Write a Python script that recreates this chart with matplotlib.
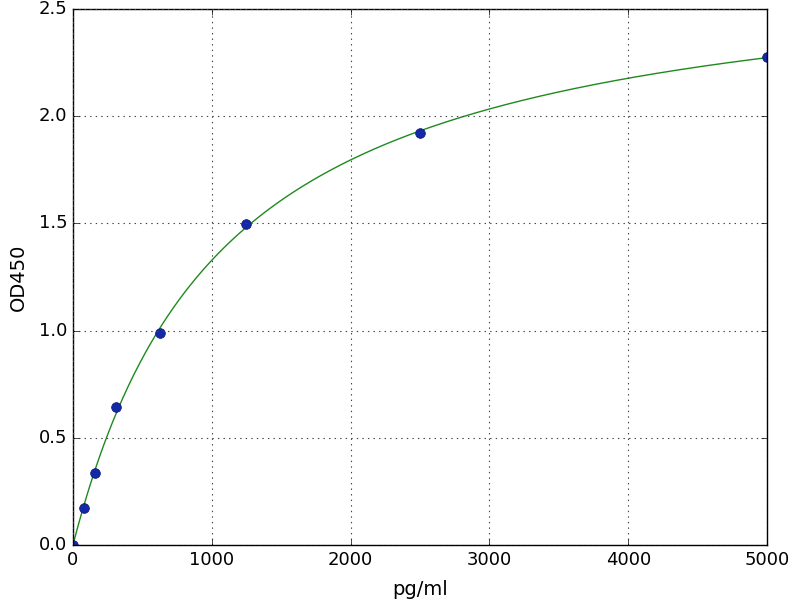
import numpy as np
import matplotlib
matplotlib.use("Agg")
import matplotlib.pyplot as plt

# Standard curve data
conc = np.array([0, 78.125, 156.25, 312.5, 625, 1250, 2500, 5000])
od450 = np.array([0.0, 0.173, 0.335, 0.643, 0.987, 1.497, 1.922, 2.276])


def fit_4pl(x, y):
    """Four-parameter logistic fit: grid over b, c; linear least squares for a, d."""
    best = None
    for b in np.linspace(0.5, 2.0, 151):
        for c in np.geomspace(200, 20000, 300):
            s = 1.0 / (1.0 + (x / c) ** b)
            A = np.column_stack([s, 1 - s])
            coef, *_ = np.linalg.lstsq(A, y, rcond=None)
            err = np.sum((A @ coef - y) ** 2)
            if best is None or err < best[0]:
                best = (err, coef[0], b, c, coef[1])
    _, a, b, c, d = best
    return a, b, c, d


def logistic4(x, a, b, c, d):
    return d + (a - d) / (1.0 + (x / c) ** b)


params = fit_4pl(conc, od450)
xs = np.linspace(0, 5000, 500)

plt.style.use("classic")
fig = plt.figure(figsize=(8, 6), dpi=100)
ax = fig.add_axes([0.091, 0.0917, 0.868, 0.8933])
ax.plot(xs, logistic4(xs, *params), color="#1e8a1e", lw=1)
ax.plot(conc, od450, "o", color="#1428aa", markeredgecolor="#0a1a6e", markersize=7)
ax.set_xlim(0, 5000)
ax.set_ylim(0, 2.5)
ax.set_xlabel("pg/ml", fontsize=14, labelpad=8)
ax.set_ylabel("OD450", fontsize=14, labelpad=8)
ax.tick_params(labelsize=13)
ax.grid(True, color="#444444", linestyle=":", linewidth=0.8)
fig.savefig("out.png", dpi=100)
